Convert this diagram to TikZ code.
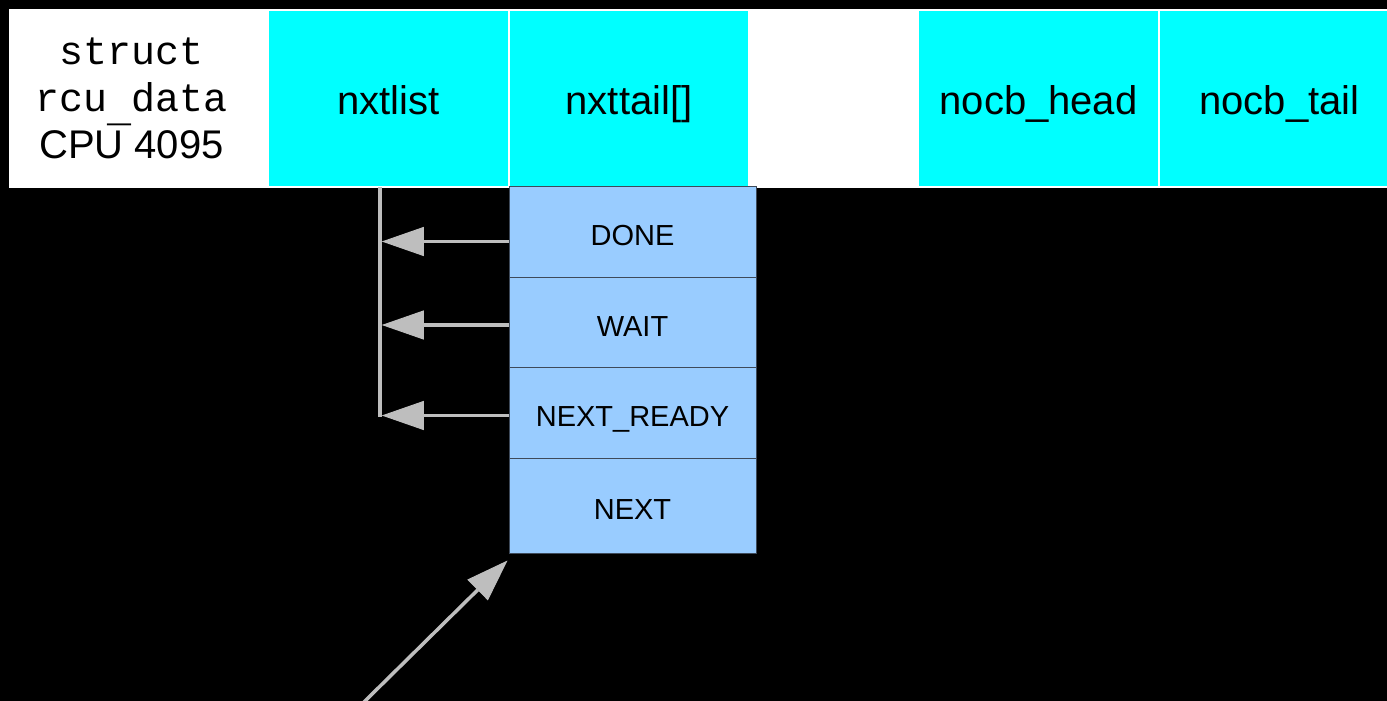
\documentclass[tikz,border=0pt]{standalone}
\usepackage{fontspec}
\setmainfont{Liberation Sans}
\setmonofont{Liberation Mono}
\usetikzlibrary{arrows.meta}
\definecolor{fieldcyan}{HTML}{00FFFF}
\definecolor{segblue}{HTML}{99CCFF}
\definecolor{segedge}{HTML}{3E4A5A}
\definecolor{ptrgrey}{HTML}{BEBEBE}
\begin{document}
\begin{tikzpicture}[x=1pt,y=-1pt,
  fieldbox/.style={draw=white, line width=2pt, fill=fieldcyan, minimum height=177pt,
    inner sep=0pt, font=\fontsize{40}{47.5}\selectfont},
  fieldtext/.style={fieldbox, text height=31pt, text depth=0pt},
  seg/.style={draw=segedge, line width=1pt, fill=segblue, minimum width=247pt,
    inner sep=0pt, text height=28pt, text depth=0pt, font=\fontsize{29}{34}\selectfont},
  ptr/.style={draw=ptrgrey, line width=3.5pt,
    -{Triangle[length=42pt,width=29pt,line width=1pt]}},
]
\fill[black] (0,0) rectangle (1387,701);
\useasboundingbox (0,0) rectangle (1387,701);

% the fields of struct rcu_data
\node[fieldbox, fill=white, minimum width=258pt] (cpu) at (139,98.5)
  {\raisebox{-3.5pt}[\height][\depth]{\begin{tabular}{@{}c@{}}\ttfamily struct\\\ttfamily rcu\raisebox{-10pt}[0pt][0pt]{\_}data\\CPU 4095\end{tabular}}\hspace*{15pt}};
\node[fieldtext, minimum width=241pt] (nxtlist) at (388.5,98.5) {nxtlist};
\node[fieldtext, minimum width=240pt] (nxttail) at (629,98.5) {nxttail[]};
\node[fieldbox, fill=white, minimum width=169pt] (gap) at (833.5,98.5) {};
\node[fieldtext, minimum width=241pt] (nocbhead) at (1038.5,98.5) {nocb\_head};
\node[fieldtext, minimum width=241pt] (nocbtail) at (1279.5,98.5) {nocb\_tail};

% the segments of the callback list
\node[seg, minimum height=91pt] (done) at (632.5,231.5) {DONE};
\node[seg, minimum height=90pt] (wait) at (632.5,322) {WAIT};
\node[seg, minimum height=91pt] (ready) at (632.5,412.5) {NEXT\_READY};
\node[seg, minimum height=95pt] (nxt) at (632.5,505.5) {NEXT};

% segment tail pointers all lead back to nxtlist
\coordinate (bustop) at (380,187);
\coordinate (busbot) at (380,417);
\draw[draw=ptrgrey, line width=3.5pt] (bustop) -- (busbot);
\coordinate (pdone) at ([yshift=-10pt]done.west);
\coordinate (pwait) at ([yshift=-3pt]wait.west);
\coordinate (pready) at ([yshift=-3pt]ready.west);
\draw[ptr, shorten >=1.75pt] (pdone) -- (pdone -| bustop);
\draw[ptr, shorten >=1.75pt] (pwait) -- (pwait -| bustop);
\draw[ptr, shorten >=1.75pt] (pready) -- (pready -| bustop);

% incoming pointer to the NEXT segment
\coordinate (src) at (363,703);
\coordinate (ntip) at ([shift={(-1pt,-7pt)}]nxt.south west);
\draw[ptr] (src) -- (ntip);
\end{tikzpicture}
\end{document}
